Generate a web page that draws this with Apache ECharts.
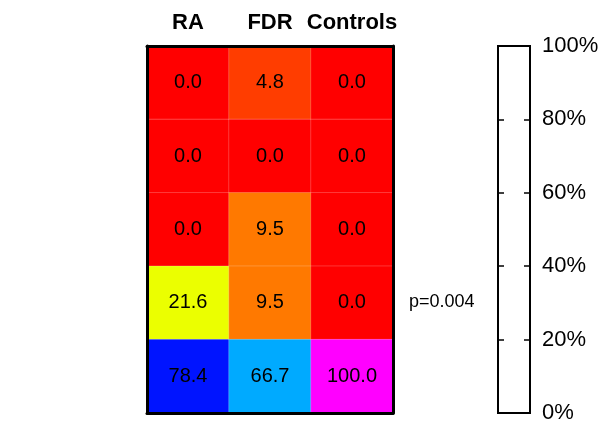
<!DOCTYPE html>
<html>
<head>
<meta charset="utf-8">
<script src="https://cdn.jsdelivr.net/npm/echarts@6/dist/echarts.min.js"></script>
<style>
html,body{margin:0;padding:0;background:#fff;}
#c{width:602px;height:424px;}
</style>
</head>
<body>
<div id="c"></div>
<script>
var columns = ['RA', 'FDR', 'Controls'];
var rows = ['r1', 'r2', 'r3', 'r4', 'r5'];
var raValues = [0.0, 0.0, 0.0, 21.6, 78.4];
var fdrValues = [4.8, 0.0, 9.5, 9.5, 66.7];
var controlValues = [0.0, 0.0, 0.0, 0.0, 100.0];
var colorbarTicks = [0, 20, 40, 60, 80, 100];
var pText = 'p=0.004';

var seriesCols = [raValues, fdrValues, controlValues];
var data = [];
seriesCols.forEach(function (vals, ci) {
  vals.forEach(function (v, ri) { data.push([ci, ri, v]); });
});

var FONT = 'Liberation Sans, Arial, sans-serif';
var chart = echarts.init(document.getElementById('c'), null, {renderer: 'canvas'});
chart.setOption({
  backgroundColor: '#fff',
  animation: false,
  textStyle: {fontFamily: FONT},
  grid: [
    {left: 147, top: 46, width: 246, height: 367},
    {left: 498, top: 46, width: 32, height: 367, show: true, backgroundColor: '#fff', borderColor: '#000', borderWidth: 2}
  ],
  visualMap: {
    show: false, type: 'continuous', min: 0, max: 100, seriesIndex: 0, dimension: 2,
    inRange: {color: ['#ff0000', '#ffff00', '#00ff00', '#00ffff', '#0000ff', '#ff00ff']}
  },
  xAxis: [
    {type: 'category', gridIndex: 0, data: columns, position: 'top', z: 10,
     axisLine: {show: true, onZero: false, lineStyle: {color: '#000', width: 3}},
     axisTick: {show: false}, splitLine: {show: false},
     axisLabel: {color: '#000', fontSize: 22, fontWeight: 'bold', margin: 12, interval: 0, hideOverlap: false, fontFamily: FONT}},
    {type: 'category', gridIndex: 0, data: columns, position: 'bottom', z: 10,
     axisLine: {show: true, onZero: false, lineStyle: {color: '#000', width: 3}},
     axisTick: {show: false}, axisLabel: {show: false}, splitLine: {show: false}},
    {type: 'category', gridIndex: 1, data: [''], show: false}
  ],
  yAxis: [
    {type: 'category', gridIndex: 0, data: rows, inverse: true, position: 'left', z: 10,
     axisLine: {show: true, onZero: false, lineStyle: {color: '#000', width: 3}},
     axisTick: {show: false}, axisLabel: {show: false}, splitLine: {show: false}},
    {type: 'category', gridIndex: 0, data: rows, inverse: true, position: 'right', z: 10,
     axisLine: {show: true, onZero: false, lineStyle: {color: '#000', width: 3}},
     axisTick: {show: false}, axisLabel: {show: false}, splitLine: {show: false}},
    {type: 'value', gridIndex: 1, min: colorbarTicks[0], max: colorbarTicks[colorbarTicks.length - 1],
     interval: colorbarTicks[1] - colorbarTicks[0], position: 'right', z: 10,
     axisLine: {show: true, onZero: false, lineStyle: {color: '#000', width: 2}},
     axisTick: {show: true, inside: true, length: 6, lineStyle: {color: '#000', width: 1.5}},
     splitLine: {show: false},
     axisLabel: {color: '#000', fontSize: 22, margin: 12, formatter: '{value}%', fontFamily: FONT}},
    {type: 'value', gridIndex: 1, min: colorbarTicks[0], max: colorbarTicks[colorbarTicks.length - 1],
     interval: colorbarTicks[1] - colorbarTicks[0], position: 'left', z: 10,
     axisLine: {show: true, onZero: false, lineStyle: {color: '#000', width: 2}},
     axisTick: {show: true, inside: true, length: 6, lineStyle: {color: '#000', width: 1.5}},
     splitLine: {show: false}, axisLabel: {show: false}}
  ],
  series: [{
    type: 'heatmap', xAxisIndex: 0, yAxisIndex: 0, data: data,
    itemStyle: {borderColor: 'rgba(255,255,255,0.25)', borderWidth: 0.8},
    label: {show: true, color: '#000', fontSize: 20, fontFamily: FONT,
      formatter: function (p) { return p.value[2].toFixed(1); }},
    emphasis: {disabled: true}
  }],
  graphic: [{
    type: 'text', left: 409, top: 293,
    style: {text: pText, fontSize: 18, fill: '#000', fontFamily: FONT}
  }]
});
</script>
</body>
</html>
